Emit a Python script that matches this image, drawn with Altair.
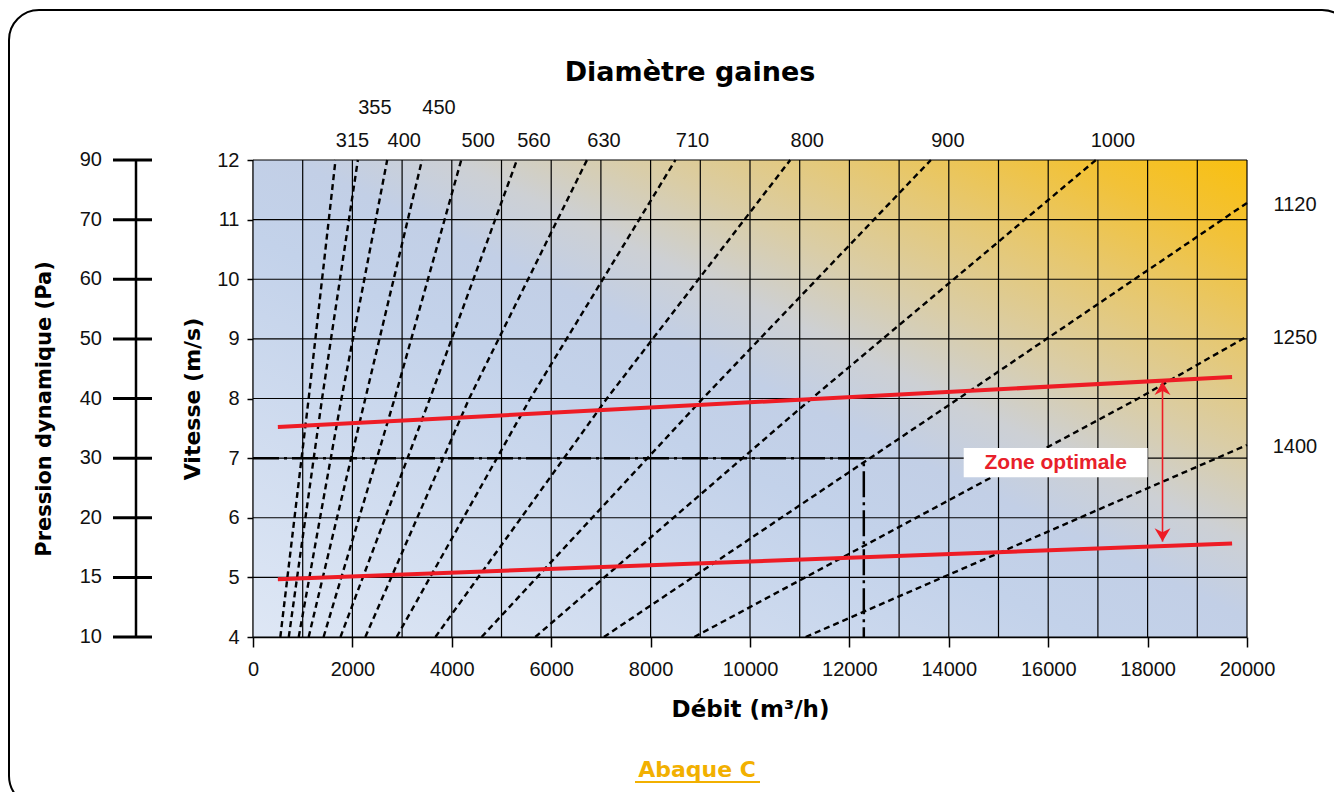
import altair as alt
import pandas as pd

# ---------------- data ----------------
diameters = [315, 355, 400, 450, 500, 560, 630, 710, 800, 900, 1000, 1120, 1250, 1400]
# debit (m3/h) where each duct line crosses 4, 8 and 12 m/s
q_at_4 = [550, 720, 920, 1120, 1420, 1760, 2260, 2890, 3670, 4600, 5680, 7060, 8880, 11120]
q_at_8 = [1120, 1390, 1780, 2260, 2850, 3560, 4350, 5580, 7120, 9050, 11240, 14200, 17810, None]
q_at_12 = [1660, 2110, 2700, 3400, 4190, 5310, 6720, 8500, 10810, 13640, 16960, None, None, None]
# velocity where the largest ducts leave the chart at 20000 m3/h
v_at_right = [None] * 11 + [11.28, 9.04, 7.22]
upper_row_labels = [355, 450]

red_upper_q = [500, 19700]
red_upper_v = [7.52, 8.36]
red_lower_q = [500, 19700]
red_lower_v = [4.97, 5.57]

arrow_q = 18300
arrow_v = [5.6, 8.28]

example_q = [0, 12290, 12290]
example_v = [7, 7, 4]

pressure_labels = [90, 70, 60, 50, 40, 30, 20, 15, 10]
pressure_at_v = [12, 11, 10, 9, 8, 7, 6, 5, 4]

x_ticks = list(range(0, 20001, 2000))
x_grid = list(range(0, 20001, 1000))
y_ticks = list(range(4, 13))

W, H = 994, 477
LABEL_FONT = "Liberation Sans"
TITLE_FONT = "DejaVu Sans"
LFS = 20

# ---------------- tables ----------------
rows = []
for i, d in enumerate(diameters):
    pts = [(q_at_4[i], 4.0)]
    if q_at_8[i] is not None:
        pts.append((q_at_8[i], 8.0))
    if q_at_12[i] is not None:
        pts.append((q_at_12[i], 12.0))
    if v_at_right[i] is not None:
        pts.append((20000, v_at_right[i]))
    for k, (q, v) in enumerate(pts):
        rows.append({"d": d, "q": q, "v": v, "k": k})
lines_df = pd.DataFrame(rows)

top_lab = pd.DataFrame([
    {"d": str(d), "q": q_at_12[i], "v": 12.0}
    for i, d in enumerate(diameters) if q_at_12[i] is not None and d not in upper_row_labels
])
top_lab2 = pd.DataFrame([
    {"d": str(d), "q": q_at_12[i], "v": 12.0}
    for i, d in enumerate(diameters) if q_at_12[i] is not None and d in upper_row_labels
])
right_lab = pd.DataFrame([
    {"d": str(d), "q": 20000, "v": v_at_right[i]}
    for i, d in enumerate(diameters) if v_at_right[i] is not None
])

red_df = pd.DataFrame({
    "q": red_upper_q + red_lower_q,
    "v": red_upper_v + red_lower_v,
    "s": ["u", "u", "l", "l"],
})
ex_df = pd.DataFrame({"q": example_q, "v": example_v, "k": [0, 1, 2]})
press_df = pd.DataFrame({"p": [str(p) for p in pressure_labels], "v": pressure_at_v})
xgrid_df = pd.DataFrame({"q": x_grid})
ygrid_df = pd.DataFrame({"v": y_ticks})
one = pd.DataFrame({"a": [0]})

xs = alt.Scale(domain=[0, 20000], nice=False, zero=False)
ys = alt.Scale(domain=[4, 12], nice=False, zero=False)

# ---------------- layers ----------------
bg = alt.Chart(pd.DataFrame({"x0": [0], "x1": [20000], "y0": [4], "y1": [12]})).mark_rect(
    fill=alt.Gradient(
        gradient="linear",
        stops=[
            alt.GradientStop(color="#DEE7F5", offset=0),
            alt.GradientStop(color="#C3D2EA", offset=0.42),
            alt.GradientStop(color="#C2CFE6", offset=0.52),
            alt.GradientStop(color="#CDD0D4", offset=0.6),
            alt.GradientStop(color="#DACDA6", offset=0.69),
            alt.GradientStop(color="#E6C872", offset=0.8),
            alt.GradientStop(color="#F2C238", offset=0.91),
            alt.GradientStop(color="#F9C010", offset=1),
        ],
        x1=0, y1=1, x2=1, y2=0,
    )
).encode(
    x=alt.X("x0:Q", scale=xs, axis=alt.Axis(
        values=x_ticks, format="d", title="Débit (m³/h)", grid=False, labelFlush=False,
        labelFont=LABEL_FONT, labelFontSize=LFS, labelColor="#111", labelPadding=12,
        tickSize=10, tickWidth=1.5, tickColor="black", domainColor="black", domainWidth=1.5,
        titleFont=TITLE_FONT, titleFontSize=23, titleFontWeight="bold", titleColor="black",
        titlePadding=19)),
    x2="x1",
    y=alt.Y("y0:Q", scale=ys, axis=alt.Axis(
        values=y_ticks, format="d", title="Vitesse (m/s)", grid=False, labelFlush=False,
        labelFont=LABEL_FONT, labelFontSize=LFS, labelColor="#111", labelPadding=8,
        tickSize=6, tickWidth=1.5, tickColor="black", domainColor="black", domainWidth=1.5,
        titleFont=TITLE_FONT, titleFontSize=22, titleFontWeight="bold", titleColor="black",
        titlePadding=12)),
    y2="y1",
)

xgrid = alt.Chart(xgrid_df).mark_rule(color="black", strokeWidth=1.2).encode(
    x=alt.X("q:Q", scale=xs), y=alt.value(0), y2=alt.value(H))
ygrid = alt.Chart(ygrid_df).mark_rule(color="black", strokeWidth=1.2).encode(
    y=alt.Y("v:Q", scale=ys), x=alt.value(0), x2=alt.value(W))

duct = alt.Chart(lines_df).mark_line(color="black", strokeWidth=2.4, strokeDash=[6, 4]).encode(
    x=alt.X("q:Q", scale=xs), y=alt.Y("v:Q", scale=ys), detail="d:N", order="k:Q")

example = alt.Chart(ex_df).mark_line(color="black", strokeWidth=2.5, strokeDash=[26, 5, 3, 5]).encode(
    x=alt.X("q:Q", scale=xs), y=alt.Y("v:Q", scale=ys), order="k:Q")

red = alt.Chart(red_df).mark_line(color="#EE1C25", strokeWidth=4).encode(
    x=alt.X("q:Q", scale=xs), y=alt.Y("v:Q", scale=ys), detail="s:N")

arrow_line = alt.Chart(pd.DataFrame({"q": [arrow_q], "v0": [arrow_v[0]], "v1": [arrow_v[1]]})).mark_rule(
    color="#EE1C25", strokeWidth=1.6).encode(
    x=alt.X("q:Q", scale=xs), y=alt.Y("v0:Q", scale=ys), y2="v1")
arrow_up = alt.Chart(pd.DataFrame({"q": [arrow_q], "v": [arrow_v[1]]})).mark_point(
    shape="M0,0 L-0.6,1 L0,0.7 L0.6,1 Z", filled=True, color="#EE1C25", size=700, opacity=1).encode(
    x=alt.X("q:Q", scale=xs), y=alt.Y("v:Q", scale=ys))
arrow_dn = alt.Chart(pd.DataFrame({"q": [arrow_q], "v": [arrow_v[0]]})).mark_point(
    shape="M0,0 L-0.6,-1 L0,-0.7 L0.6,-1 Z", filled=True, color="#EE1C25", size=700, opacity=1).encode(
    x=alt.X("q:Q", scale=xs), y=alt.Y("v:Q", scale=ys))

zone_box = alt.Chart(pd.DataFrame({"q0": [14300], "q1": [18000], "v0": [6.68], "v1": [7.17]})).mark_rect(
    fill="white").encode(x=alt.X("q0:Q", scale=xs), x2="q1", y=alt.Y("v0:Q", scale=ys), y2="v1")
zone_txt = alt.Chart(pd.DataFrame({"q": [16150], "v": [6.925], "t": ["Zone optimale"]})).mark_text(
    font=LABEL_FONT, fontSize=21, fontWeight="bold", color="#E8202A", baseline="middle").encode(
    x=alt.X("q:Q", scale=xs), y=alt.Y("v:Q", scale=ys), text="t:N")

lab_kw = dict(font=LABEL_FONT, fontSize=LFS, color="#111", baseline="middle")
top_text = alt.Chart(top_lab).mark_text(dx=17, dy=-19, **lab_kw).encode(
    x=alt.X("q:Q", scale=xs), y=alt.Y("v:Q", scale=ys), text="d:N")
top_text2 = alt.Chart(top_lab2).mark_text(dx=17, dy=-52, **lab_kw).encode(
    x=alt.X("q:Q", scale=xs), y=alt.Y("v:Q", scale=ys), text="d:N")
right_text = alt.Chart(right_lab).mark_text(dx=48, dy=2, **lab_kw).encode(
    x=alt.X("q:Q", scale=xs), y=alt.Y("v:Q", scale=ys), text="d:N")

# pressure axis on the far left
p_line = alt.Chart(one).mark_rule(color="black", strokeWidth=2.5).encode(
    x=alt.value(-117), y=alt.value(0), y2=alt.value(H))
p_ticks = alt.Chart(press_df).mark_rule(color="black", strokeWidth=3).encode(
    y=alt.Y("v:Q", scale=ys), x=alt.value(-140), x2=alt.value(-101))
p_labels = alt.Chart(press_df).mark_text(align="right", **lab_kw).encode(
    y=alt.Y("v:Q", scale=ys), x=alt.value(-151), text="p:N")
p_title = alt.Chart(pd.DataFrame({"t": ["Pression dynamique (Pa)"]})).mark_text(
    font=TITLE_FONT, fontSize=21, fontWeight="bold", color="black", angle=270,
    baseline="middle", align="center").encode(
    x=alt.value(-208), y=alt.value(249), text="t:N")

title = alt.Chart(pd.DataFrame({"t": ["Diamètre gaines"]})).mark_text(
    font=TITLE_FONT, fontSize=27, fontWeight="bold", color="black", baseline="middle").encode(
    x=alt.value(W / 2 - 60), y=alt.value(-87), text="t:N")

abaque = alt.Chart(pd.DataFrame({"t": ["Abaque C"]})).mark_text(
    font=TITLE_FONT, fontSize=22, fontWeight="bold", color="#F2B000", baseline="middle").encode(
    x=alt.value(444), y=alt.value(610), text="t:N")
abaque_ul = alt.Chart(one).mark_rule(color="#F2B000", strokeWidth=2).encode(
    x=alt.value(382), x2=alt.value(507), y=alt.value(622))

frame = alt.Chart(one).mark_rect(cornerRadius=30, fill="transparent", stroke="black", strokeWidth=2).encode(
    x=alt.value(-244), x2=alt.value(1099), y=alt.value(-150), y2=alt.value(646))

chart = alt.layer(
    bg, xgrid, ygrid, duct, example, red, arrow_line, arrow_up, arrow_dn,
    zone_box, zone_txt, top_text, top_text2, right_text,
    p_line, p_ticks, p_labels, p_title, title, abaque, abaque_ul, frame,
).properties(
    width=W, height=H,
    padding={"left": 245, "top": 152, "right": 87, "bottom": 155},
    autosize=alt.AutoSizeParams(type="none"),
    background="white",
).configure_view(stroke=None)

chart.save("out.html", embed_options={"renderer": "svg", "actions": False})
